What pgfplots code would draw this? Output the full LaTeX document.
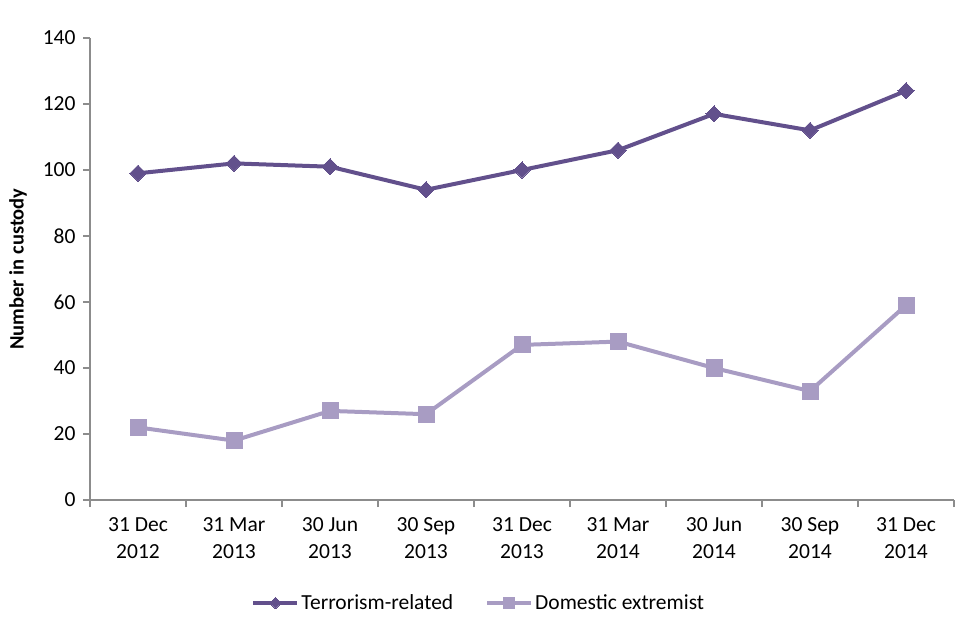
\documentclass[border=0pt]{standalone}
\usepackage{pgfplots}
\pgfplotsset{compat=1.18}
\usepackage{fontspec}
\setmainfont{Carlito}
\definecolor{darkp}{HTML}{62508C}
\definecolor{lightp}{HTML}{A89CC3}
\definecolor{axgray}{HTML}{8C8C8C}
\begin{document}
\begin{tikzpicture}[x=1pt,y=1pt]
\path[use as bounding box] (0,0) rectangle (960,640);
\begin{axis}[
  at={(90pt,140pt)}, anchor=south west,
  scale only axis, width=864pt, height=462pt,
  xmin=-0.5, xmax=8.5, ymin=0, ymax=140,
  ytick={0,20,...,140},
  xtick={0,...,8},
  xticklabels={{31 Dec\\2012},{31 Mar\\2013},{30 Jun\\2013},{30 Sep\\2013},{31 Dec\\2013},{31 Mar\\2014},{30 Jun\\2014},{30 Sep\\2014},{31 Dec\\2014}},
  xticklabel style={align=center, font=\fontsize{21.5}{27}\selectfont, yshift=-7pt},
  yticklabel style={font=\fontsize{21.5}{24}\selectfont, xshift=-4pt},
  /pgf/number format/assume math mode=true,
  minor xtick={-0.5,0.5,...,8.5},
  major x tick style={draw=none},
  tick align=outside,
  major tick length=7pt, minor tick length=7pt,
  tick style={axgray, line width=1.2pt},
  axis x line*=bottom, axis y line*=left,
  axis line style={axgray, line width=1.2pt, -},
  ylabel={\bfseries Number in custody},
  ylabel style={font=\fontsize{20.5}{22}\selectfont, at={(axis description cs:-0.0833,0.5)}, anchor=center},
  legend style={at={(0.45,-0.223)}, anchor=center, draw=none, legend columns=2,
    font=\fontsize{21.5}{24}\selectfont, /tikz/every even column/.append style={column sep=30pt}},
  legend image code/.code={\draw[#1] (0pt,0pt) -- (44pt,0pt); \draw[#1, every mark/.append style={scale=0.7}] plot coordinates {(22pt,0pt)};},
  clip=false,
]
\addplot[darkp, line width=4pt, mark=square*, mark size=5.7pt, mark options={line width=0pt, fill=darkp, rotate=45}] coordinates {
(0,99) (1,102) (2,101) (3,94) (4,100) (5,106) (6,117) (7,112) (8,124)};
\addlegendentry{Terrorism-related}
\addplot[lightp, line width=4pt, mark=square*, mark size=8pt, mark options={line width=0pt, fill=lightp}] coordinates {
(0,22) (1,18) (2,27) (3,26) (4,47) (5,48) (6,40) (7,33) (8,59)};
\addlegendentry{Domestic extremist}
\end{axis}
\end{tikzpicture}
\end{document}
